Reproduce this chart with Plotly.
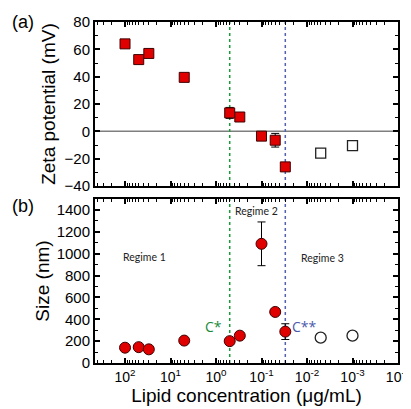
import plotly.graph_objects as go

# ---- data ----
conc_filled = [100, 50, 30, 5, 0.5, 0.3, 0.1, 0.05, 0.03]
zeta_filled = [64, 52.5, 57, 39.5, 13.5, 10.5, -3.5, -6.5, -26]
zeta_err = [1.5, 1.5, 2.5, 1, 4, 2, 1, 5, 1]
conc_open = [0.005, 0.001]
zeta_open = [-16, -10.5]

size_filled = [140, 145, 125, 205, 200, 250, 1090, 467, 287]
size_err = [0, 0, 0, 0, 0, 0, 200, 0, 72]
size_open = [232, 250]
size_open_err = [25, 35]

c_star = 0.5
c_star2 = 0.03

xtick_vals = [100, 10, 1, 0.1, 0.01, 0.001, 0.0001]
xtick_text = ["10<sup>2</sup>", "10<sup>1</sup>", "10<sup>0</sup>", "10<sup>-1</sup>",
              "10<sup>-2</sup>", "10<sup>-3</sup>", "10<sup>-4</sup>"]
zeta_ticks = [-40, -20, 0, 20, 40, 60, 80]
zeta_minor = [-30, -10, 10, 30, 50, 70]
size_ticks = [0, 200, 400, 600, 800, 1000, 1200, 1400]
size_minor = [100, 300, 500, 700, 900, 1100, 1300]
x_minor = [m * 10.0 ** e for e in range(-4, 3) for m in range(2, 10) if m * 10.0 ** e < 450]

red = "#e00000"
edge = "#400000"

fig = go.Figure()
fig.add_trace(go.Scatter(x=conc_filled, y=zeta_filled, mode="markers", xaxis="x", yaxis="y",
                         marker=dict(symbol="square", size=10, color=red, line=dict(color=edge, width=1)),
                         error_y=dict(type="data", array=zeta_err, color="black", thickness=1, width=4),
                         showlegend=False))
fig.add_trace(go.Scatter(x=conc_open, y=zeta_open, mode="markers", xaxis="x", yaxis="y",
                         marker=dict(symbol="square", size=10, color="white", line=dict(color="#222", width=1.3)),
                         showlegend=False))
fig.add_trace(go.Scatter(x=conc_filled, y=size_filled, mode="markers", xaxis="x2", yaxis="y2",
                         marker=dict(symbol="circle", size=11, color=red, line=dict(color=edge, width=1)),
                         error_y=dict(type="data", array=size_err, color="black", thickness=1, width=4),
                         showlegend=False))
fig.add_trace(go.Scatter(x=conc_open, y=size_open, mode="markers", xaxis="x2", yaxis="y2",
                         marker=dict(symbol="circle", size=11, color="white", line=dict(color="#222", width=1.3)),
                         error_y=dict(type="data", array=size_open_err, color="black", thickness=1, width=4),
                         showlegend=False))

tickfont = dict(family="Liberation Sans, Arial", size=15, color="black")
titlefont = dict(family="Liberation Sans, Arial", size=19, color="black")
major = dict(showline=True, linecolor="black", linewidth=2, mirror="ticks",
             ticks="inside", ticklen=5, tickwidth=1.5, tickcolor="black",
             showgrid=False, zeroline=False, automargin=False, tickmode="array")


def minor(vals):
    return dict(tickmode="array", tickvals=vals, ticks="inside", ticklen=3, tickwidth=1, tickcolor="black")


dom_top = [0.519, 1.0]
dom_bot = [0.0, 0.481]
xr = [2.66, -4]

fig.update_layout(
    xaxis=dict(type="log", range=xr, tickvals=xtick_vals, ticktext=xtick_text, showticklabels=False,
               anchor="y", domain=[0, 1], minor=minor(x_minor), **major),
    yaxis=dict(range=[-40, 80], tickvals=zeta_ticks, tickfont=tickfont, domain=dom_top, anchor="x",
               minor=minor(zeta_minor),
               title=dict(text="Zeta potential (mV)", standoff=4, font=titlefont), **major),
    xaxis2=dict(type="log", range=xr, tickvals=xtick_vals, ticktext=xtick_text,
                tickfont=dict(family="Liberation Sans, Arial", size=14, color="black"),
                anchor="y2", domain=[0, 1], minor=minor(x_minor),
                title=dict(text="Lipid concentration (μg/mL)", standoff=2, font=titlefont), **major),
    yaxis2=dict(range=[0, 1500], tickvals=size_ticks, tickfont=tickfont, domain=dom_bot, anchor="x2",
                minor=minor(size_minor),
                title=dict(text="Size (nm)", standoff=2, font=titlefont), **major),
)

# zero line on top panel
fig.add_shape(type="line", xref="x domain", yref="y", x0=0, x1=1, y0=0, y1=0,
              line=dict(color="#7f7f7f", width=1.5), layer="below")
# vertical dotted lines
for xref, yref in (("x", "y domain"), ("x2", "y2 domain")):
    fig.add_shape(type="line", xref=xref, yref=yref, x0=c_star, x1=c_star, y0=0, y1=1,
                  line=dict(color="#1a9a3a", width=1.5, dash="dot"), layer="below")
    fig.add_shape(type="line", xref=xref, yref=yref, x0=c_star2, x1=c_star2, y0=0, y1=1,
                  line=dict(color="#5560b0", width=1.5, dash="dot"), layer="below")

ann_font = dict(family="Lato, Open Sans", size=10.5, color="#222")
fig.add_annotation(x=1.57, y=970, xref="x2", yref="y2", text="Regime 1", showarrow=False, font=ann_font)
fig.add_annotation(x=-0.88, y=1390, xref="x2", yref="y2", text="Regime 2", showarrow=False, font=ann_font)
fig.add_annotation(x=-2.33, y=960, xref="x2", yref="y2", text="Regime 3", showarrow=False, font=ann_font)
fig.add_annotation(x=0.05, y=330, xref="x2", yref="y2", text="C*", showarrow=False,
                   font=dict(family="Open Sans, Lato", size=14, color="#1a8a3a"))
fig.add_annotation(x=-1.95, y=330, xref="x2", yref="y2", text="C**", showarrow=False,
                   font=dict(family="Open Sans, Lato", size=14, color="#4a5aaa"))

lab_font = dict(family="Liberation Sans, Arial", size=18, color="black")
fig.add_annotation(x=-0.28, y=1.035, xref="paper", yref="paper", xanchor="left", yanchor="top",
                   text="(a)", showarrow=False, font=lab_font)
fig.add_annotation(x=-0.28, y=0.495, xref="paper", yref="paper", xanchor="left", yanchor="top",
                   text="(b)", showarrow=False, font=lab_font)

fig.update_layout(width=403, height=401, margin=dict(l=87, r=13, t=14, b=46),
                  plot_bgcolor="white", paper_bgcolor="white")

fig.write_html("out.html")
